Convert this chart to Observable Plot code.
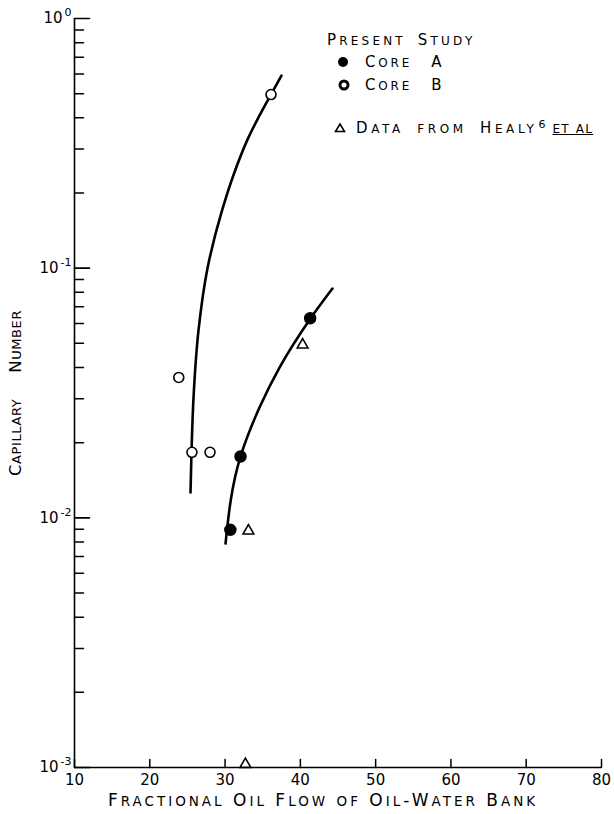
<!DOCTYPE html>
<html><head><meta charset="utf-8">
<script src="https://cdn.jsdelivr.net/npm/d3@7"></script>
<script src="https://cdn.jsdelivr.net/npm/@observablehq/plot@0.6"></script>
<style>
body{margin:0;background:#fff;}
#wrap{position:relative;width:614px;height:814px;overflow:hidden;font-family:"DejaVu Sans",sans-serif;color:#000;}
.lg{position:absolute;font-size:15px;white-space:nowrap;line-height:16px;letter-spacing:3.2px;word-spacing:4px;}
.lg svg{position:absolute;top:1px;overflow:visible;}
.lg .sup{font-size:11px;letter-spacing:0;position:relative;top:-5px;margin-left:1px;}
</style></head>
<body><div id="wrap"><div id="chart"></div>
<div class="lg" style="left:327px;top:32px;"><span class="cp">Present Study</span></div>
<div class="lg" style="left:365px;top:54px;word-spacing:2px;letter-spacing:2.8px;"><svg width="14" height="14" style="left:-22px"><circle cx="0" cy="7" r="5" fill="#000"/></svg><span class="cp">Core</span>&nbsp;&nbsp;<span class="cp">A</span></div>
<div class="lg" style="left:365px;top:77px;word-spacing:2px;letter-spacing:2.8px;"><svg width="14" height="14" style="left:-22px"><circle cx="1" cy="7" r="4" fill="#fff" stroke="#000" stroke-width="3"/></svg><span class="cp">Core</span>&nbsp;&nbsp;<span class="cp">B</span></div>
<div class="lg" style="left:356px;top:120px;letter-spacing:3.6px;word-spacing:5px;"><svg width="14" height="14" style="left:-16px"><path d="M-4.5,10.5 L0,3 L4.5,10.5 Z" fill="#fff" stroke="#000" stroke-width="1.6"/></svg><span class="cp">Data from Healy</span><span class="sup">6</span><span class="cp" style="text-decoration:underline;letter-spacing:1.2px;word-spacing:0;margin-left:7px;">et al</span></div>
</div>
<script>
// Data
const coreA_x = [30.7, 32.05, 41.3];
const coreA_y = [0.00895, 0.0176, 0.063];
const coreB_x = [36.1, 23.85, 25.6, 28.0];
const coreB_y = [0.496, 0.0365, 0.0183, 0.0183];
const healy_x = [40.3, 33.1, 32.7];
const healy_y = [0.0493, 0.00887, 0.00103];
const curveA_x = [30.06, 32.05, 34.57, 37.23, 41.35, 44.27];
const curveA_y = [0.00789, 0.0176, 0.02765, 0.0400, 0.0629, 0.0829];
const curveB_x = [25.41, 25.54, 25.81, 26.47, 27.66, 29.59, 31.18, 33.11, 36.09, 37.49];
const curveB_y = [0.01263, 0.01827, 0.0303, 0.0563, 0.0997, 0.170, 0.239, 0.334, 0.496, 0.591];
const xTicks = [10, 20, 30, 40, 50, 60, 70, 80];
const yMajor = [0.001, 0.01, 0.1, 1];
const yExp = ["-3", "-2", "-1", "0"];
const yMinorMult = [2, 3, 4, 5, 6, 7, 8, 9];
const yDecades = [0.001, 0.01, 0.1];
const xTitle = "Fractional Oil Flow of Oil-Water Bank";
const yTitle = "Capillary\u2003\u2002Number";

const pts = (xs, ys) => xs.map((x, i) => ({x, y: ys[i]}));
const yMinor = yDecades.flatMap(d => yMinorMult.map(m => m * d));
const expMap = new Map(yMajor.map((d, i) => [d, yExp[i]]));
const tick = {draw(ctx, l) { ctx.moveTo(0, 0); ctx.lineTo(0, -l); }};

const chart = Plot.plot({
  width: 614, height: 814,
  marginLeft: 74, marginRight: 13, marginTop: 18, marginBottom: 47,
  style: {fontFamily: "DejaVu Sans, sans-serif", color: "#000", background: "#fff"},
  x: {domain: [10, 80]},
  y: {type: "log", domain: [0.001, 1]},
  marks: [
    Plot.ruleX([10], {stroke: "#000", strokeWidth: 1.6}),
    Plot.ruleY([0.001], {stroke: "#000", strokeWidth: 1.6}),
    Plot.vector(xTicks, {x: d => d, frameAnchor: "bottom", length: 8, rotate: 0, anchor: "start", shape: tick, stroke: "#000", strokeWidth: 1.5}),
    Plot.vector(yMajor, {y: d => d, frameAnchor: "left", length: 15, rotate: 90, anchor: "start", shape: tick, stroke: "#000", strokeWidth: 1.6}),
    Plot.vector(yMinor, {y: d => d, frameAnchor: "left", length: 9, rotate: 90, anchor: "start", shape: tick, stroke: "#000", strokeWidth: 1.5}),
    Plot.axisX(xTicks, {tickSize: 0, tickPadding: 7, fontSize: 15, tickFormat: d => String(d),
      label: xTitle, labelAnchor: "center", labelArrow: "none", labelOffset: 38}),
    Plot.axisY(yMajor, {tickSize: 0, tickPadding: 3, fontSize: 15, tickFormat: d => "10" + expMap.get(d),
      label: yTitle, labelAnchor: "center", labelArrow: "none", labelOffset: 64}),
    Plot.line(pts(curveA_x, curveA_y), {x: "x", y: "y", curve: "monotone-y", stroke: "#000", strokeWidth: 2.6}),
    Plot.line(pts(curveB_x, curveB_y), {x: "x", y: "y", curve: "monotone-y", stroke: "#000", strokeWidth: 2.6}),
    Plot.dot(pts(coreB_x, coreB_y), {x: "x", y: "y", r: 5, fill: "#fff", stroke: "#000", strokeWidth: 1.6}),
    Plot.dot(pts(coreA_x, coreA_y), {x: "x", y: "y", r: 5.5, fill: "#000", stroke: "#000"}),
    Plot.dot(pts(healy_x, healy_y), {x: "x", y: "y", r: 4, symbol: "triangle", fill: "#fff", stroke: "#000", strokeWidth: 1.6})
  ]
});
document.getElementById("chart").appendChild(chart);

const NS = "http://www.w3.org/2000/svg";
// Lettering-style small caps: capitals large, lowercase as smaller capitals
function capsSvg(el, big, small, ls) {
  const s = el.textContent;
  while (el.firstChild) el.removeChild(el.firstChild);
  for (const m of s.matchAll(/([a-z]+)|([^a-z]+)/g)) {
    const t = document.createElementNS(NS, "tspan");
    t.textContent = m[0].toUpperCase();
    t.setAttribute("font-size", m[1] ? small : big);
    el.appendChild(t);
  }
  el.setAttribute("letter-spacing", ls);
  el.style.whiteSpace = "pre";
}
const xl = chart.querySelector('g[aria-label="x-axis label"] text');
if (xl) { capsSvg(xl, 17, 13.5, 3); xl.setAttribute("dx", -15); }
const yl = chart.querySelector('g[aria-label="y-axis label"] text');
if (yl) capsSvg(yl, 16.5, 13, 0.6);
// superscript exponents on the y tick labels
chart.querySelectorAll('g[aria-label="y-axis tick label"] text').forEach(el => {
  const s = el.textContent;
  while (el.firstChild) el.removeChild(el.firstChild);
  const a = document.createElementNS(NS, "tspan"); a.textContent = s.slice(0, 2);
  const b = document.createElementNS(NS, "tspan"); b.textContent = s.slice(2);
  b.setAttribute("font-size", 11); b.setAttribute("dy", -7); b.setAttribute("dx", 2);
  el.appendChild(a); el.appendChild(b);
});
// legend lettering
document.querySelectorAll(".lg .cp").forEach(el => {
  const s = el.textContent;
  el.textContent = "";
  for (const m of s.matchAll(/([a-z]+)|([^a-z]+)/g)) {
    const sp = document.createElement("span");
    sp.textContent = m[0].toUpperCase();
    sp.style.fontSize = m[1] ? "12px" : "15px";
    el.appendChild(sp);
  }
});
</script>
</body></html>
